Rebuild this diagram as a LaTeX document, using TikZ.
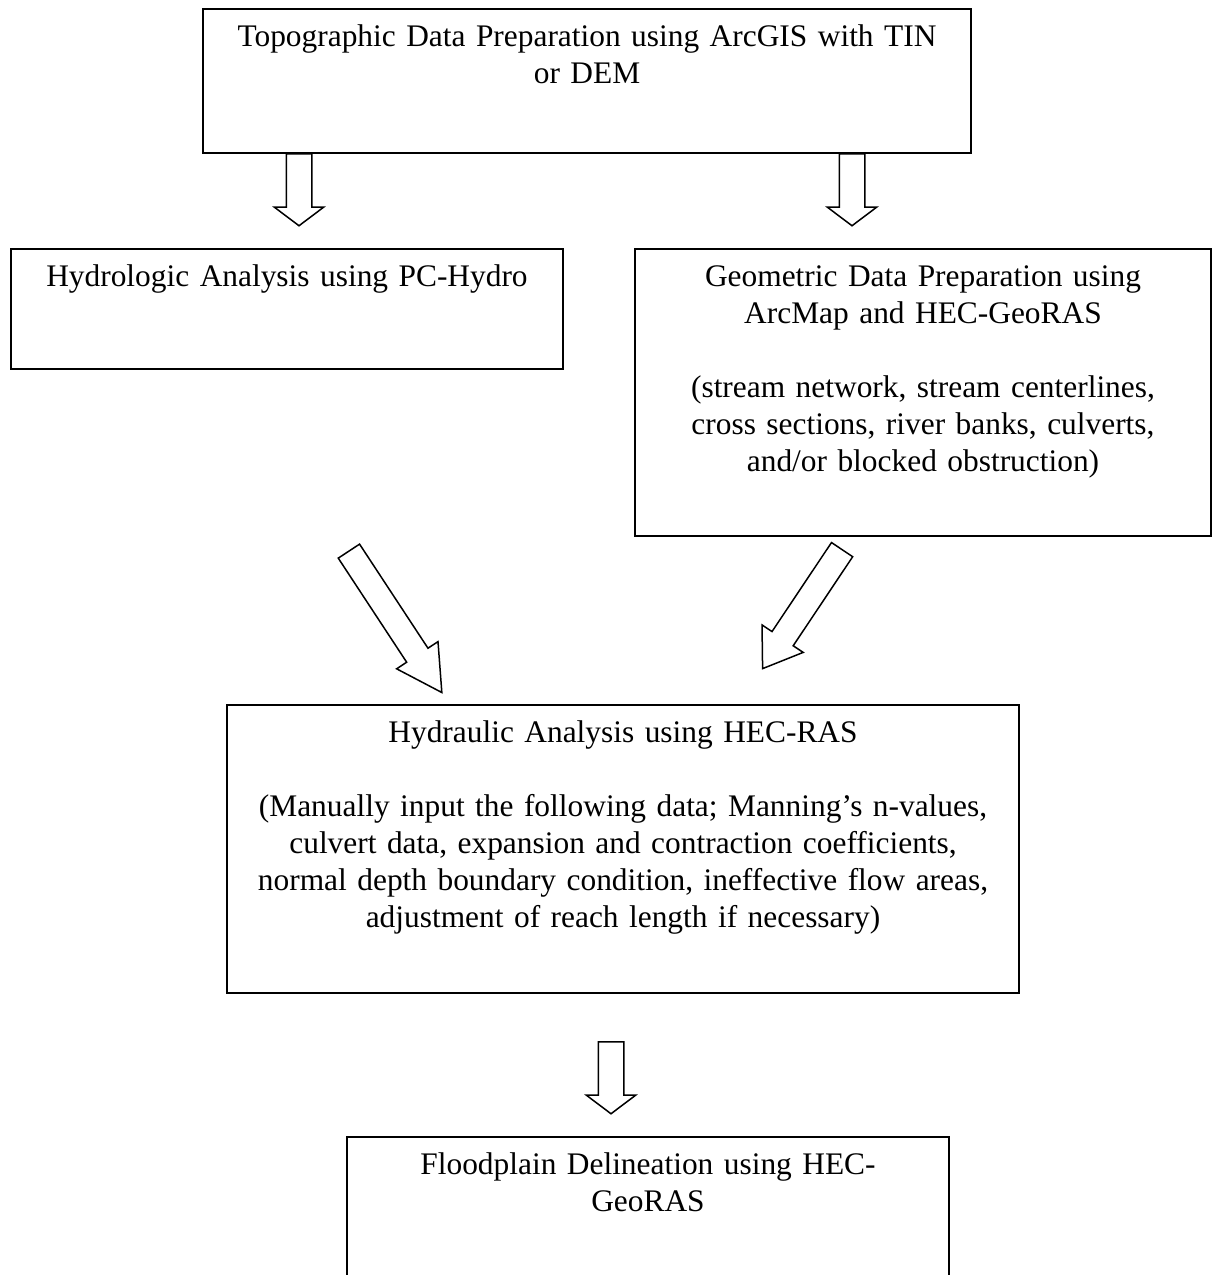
\documentclass[tikz,border=0pt]{standalone}
\usepackage{fontspec}
\setmainfont{Liberation Serif}
\usepackage{tikz}
\usetikzlibrary{
  shapes.arrows,
  positioning,
  fit,
  calc
}
\tikzset{
  stagebox/.style = {
    rectangle, draw=black, line width=1.1pt, inner sep=0pt
  },
  boxtext/.style = {
    font=\fontsize{15.7}{18.5}\selectfont, text width=380pt,
    align=center, anchor=base, inner sep=0pt
  },
  blockarr/.style = {
    single arrow, draw=black, line width=0.75pt, fill=white,
    inner xsep=0pt, inner ysep=6pt, minimum width=24pt,
    single arrow head extend=6pt, single arrow head indent=0pt,
    single arrow tip angle=#1, sloped, allow upside down, anchor=tail
  },
  blockarr/.default = 106,
}

\begin{document}
\begin{tikzpicture}[x=0.5pt, y=-0.5pt]

  \useasboundingbox (0,0) rectangle (1213,1275);
  \clip (0,0) rectangle (1213,1275);

  %% Boxes
  \node[stagebox, fit={(203,9) (971,153)}] (topo) {};
  \node[stagebox, fit={(11,249) (563,369)}] (hydro) {};
  \node[stagebox, fit={(635,249) (1211,536)}] (geom) {};
  \node[stagebox, fit={(227,705) (1019,993)}] (hydra) {};
  \node[stagebox, fit={(347,1137) (949,1300)}] (flood) {};

  %% Texts
  \node[boxtext] (topotxt) at ([yshift=-19.25pt]topo.north)
    {Topographic Data Preparation using ArcGIS with TIN\\or DEM};
  \node[boxtext] (hydrotxt) at ([yshift=-19.25pt]hydro.north)
    {Hydrologic Analysis using PC-Hydro};
  \node[boxtext] (geomtxt) at ([yshift=-19.25pt]geom.north)
    {Geometric Data Preparation using\\ArcMap and HEC-GeoRAS\\[18.5pt]
     (stream network, stream centerlines,\\cross sections, river banks, culverts,\\
     and/or blocked obstruction)};
  \node[boxtext] (hydratxt) at ([yshift=-19.25pt]hydra.north)
    {Hydraulic Analysis using HEC-RAS\\[18.5pt]
     (Manually input the following data; Manning’s n-values,\\
     culvert data, expansion and contraction coefficients,\\
     normal depth boundary condition, ineffective flow areas,\\
     adjustment of reach length if necessary)};
  \node[boxtext] (floodtxt) at ([yshift=-19.25pt]flood.north)
    {Floodplain Delineation using HEC-\\GeoRAS};

  %% Arrow ends
  \coordinate (a1s) at (299,153);
  \coordinate (a1e) at (299,225);
  \coordinate (a2s) at (852,153);
  \coordinate (a2e) at (852,225);
  \coordinate (a3s) at (348.5,550.5);
  \coordinate (a3e) at (441.5,692);
  \coordinate (a4s) at (842.5,549);
  \coordinate (a4e) at (763,668);
  \coordinate (a5s) at (611,1041);
  \coordinate (a5e) at (611,1113);

  %% Block arrows
  \path let \p1=($(a1e)-(a1s)$), \n1={veclen(\x1,\y1)} in
    (a1s) -- node[blockarr, at start, minimum height=\n1] (ar1) {} (a1e);
  \path let \p1=($(a2e)-(a2s)$), \n1={veclen(\x1,\y1)} in
    (a2s) -- node[blockarr, at start, minimum height=\n1] (ar2) {} (a2e);
  \path let \p1=($(a3e)-(a3s)$), \n1={veclen(\x1,\y1)} in
    (a3s) -- node[blockarr=58, at start, minimum height=\n1] (ar3) {} (a3e);
  \path let \p1=($(a4e)-(a4s)$), \n1={veclen(\x1,\y1)} in
    (a4s) -- node[blockarr=69, at start, minimum height=\n1] (ar4) {} (a4e);
  \path let \p1=($(a5e)-(a5s)$), \n1={veclen(\x1,\y1)} in
    (a5s) -- node[blockarr, at start, minimum height=\n1] (ar5) {} (a5e);

\end{tikzpicture}
\end{document}
